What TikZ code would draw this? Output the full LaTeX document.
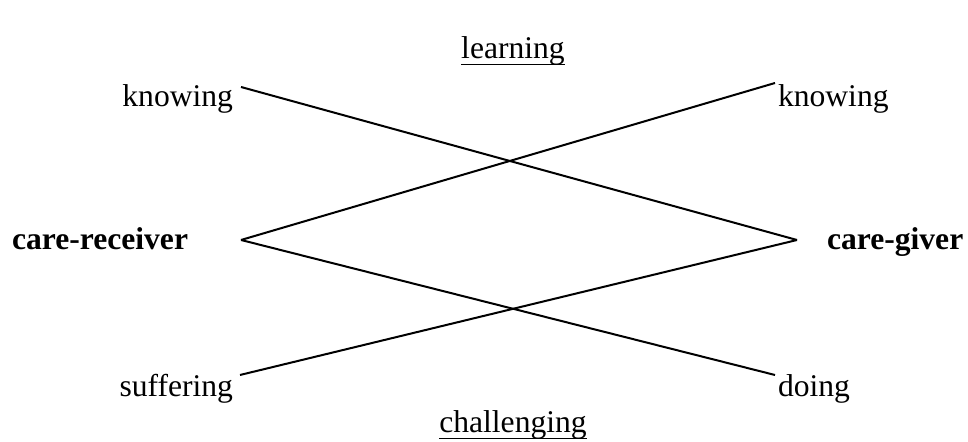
\documentclass[tikz,border=0pt]{standalone}
\usepackage{fontspec}
\setmainfont{Liberation Serif}
\begin{document}
\begin{tikzpicture}[x=0.5pt,y=0.5pt]
        % Styles
        \tikzset{
            word/.style={inner sep=0, outer sep=0, font=\fontsize{15.8}{19}\selectfont},
            role/.style={word, font=\fontsize{15.8}{19}\selectfont\bfseries},
            link/.style={line width=1pt},
            rule/.style={line width=0.75pt}
        }
        \useasboundingbox (0,0) rectangle (968,442);

        % Headings, underlined by hand
        \node[word, anchor=base] (learn) at (513,383) {learning};
        \node[word, anchor=base] (chall) at (513,9) {challenging};
        \draw[rule] ([yshift=-2.8pt]learn.base west) -- ([yshift=-2.8pt]learn.base east);
        \draw[rule] ([yshift=-2.8pt]chall.base west) -- ([yshift=-2.8pt]chall.base east);

        % Left column
        \node[word, anchor=base east] (knowL) at (233,335) {knowing};
        \node[role, anchor=base east] (recv) at (188,192) {care-receiver};
        \node[word, anchor=base east] (suff) at (233,45) {suffering};

        % Right column
        \node[word, anchor=base west] (knowR) at (778,335) {knowing};
        \node[role, anchor=base west] (give) at (827,192) {care-giver};
        \node[word, anchor=base west] (doing) at (778,45) {doing};

        % Line ends
        \coordinate (knowLend) at (241,355);
        \coordinate (knowRend) at (775,359);
        \coordinate (recvend) at (241,202);
        \coordinate (giveend) at (797,202);
        \coordinate (suffend) at (240,67);
        \coordinate (doingend) at (775,67);

        % Crossing lines
        \draw[link] (knowLend) -- (giveend);
        \draw[link] (recvend) -- (knowRend);
        \draw[link] (recvend) -- (doingend);
        \draw[link] (suffend) -- (giveend);
\end{tikzpicture}
\end{document}
